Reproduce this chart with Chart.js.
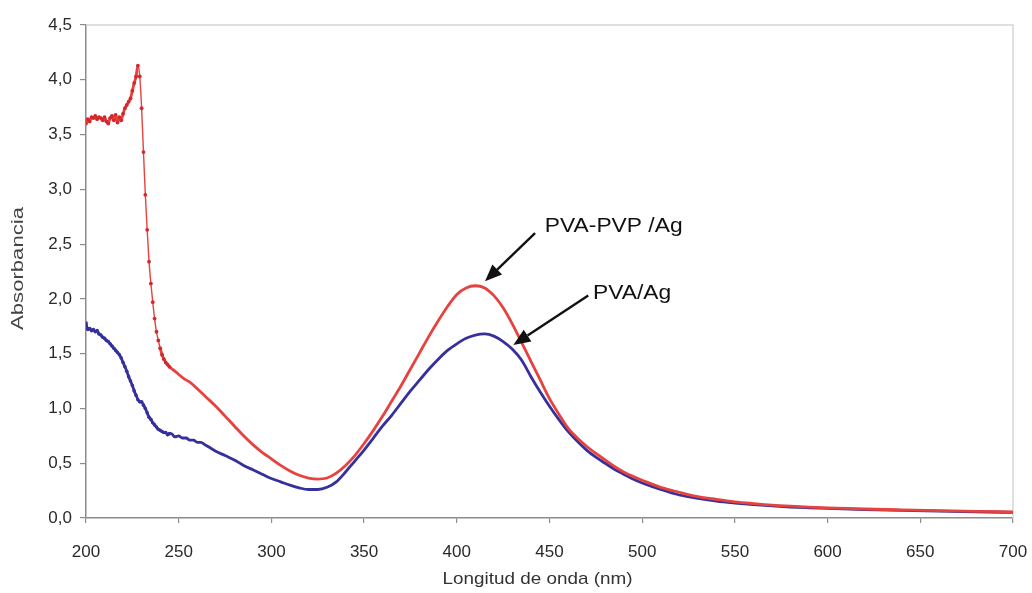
<!DOCTYPE html>
<html lang="es">
<head>
<meta charset="utf-8">
<title>Absorbancia UV-Vis</title>
<script src="https://cdn.jsdelivr.net/npm/chart.js@4.4.1/dist/chart.umd.min.js"></script>
<style>
  html, body { margin: 0; padding: 0; background: #ffffff; }
  #wrap { width: 1032px; height: 593px; }
</style>
</head>
<body>
<div id="wrap"><canvas id="chart" width="1032" height="593"></canvas></div>
<script>
// Wavelengths (nm) and absorbance of the PVA-PVP/Ag film
const redNm = [
  200, 201, 202, 203, 204, 205, 206, 207, 208, 209,
  210, 211, 212, 213, 214, 215, 216, 217, 218, 219,
  220, 221, 222, 223, 224, 225, 226, 227, 228, 229,
  230, 231, 232, 233, 234, 235, 236, 237, 238, 239,
  240, 241, 242, 243, 244, 245, 248, 250, 253, 256,
  260, 265, 270, 275, 280, 285, 290, 295, 300, 305,
  310, 315, 320, 325, 330, 335, 340, 345, 350, 355,
  360, 365, 370, 375, 380, 385, 390, 395, 400, 405,
  410, 415, 420, 425, 430, 435, 440, 445, 450, 455,
  460, 465, 470, 475, 480, 485, 490, 495, 500, 510,
  520, 530, 540, 550, 560, 570, 580, 590, 600, 620,
  640, 660, 680, 700
];
const redAbs = [
  3.60, 3.64, 3.62, 3.66, 3.65, 3.67, 3.64, 3.66, 3.65, 3.63,
  3.66, 3.62, 3.60, 3.65, 3.67, 3.63, 3.68, 3.61, 3.66, 3.63,
  3.69, 3.74, 3.77, 3.80, 3.83, 3.90, 3.97, 4.03, 4.13, 4.03,
  3.74, 3.34, 2.95, 2.63, 2.34, 2.14, 1.97, 1.82, 1.70, 1.62,
  1.55, 1.49, 1.45, 1.42, 1.40, 1.38, 1.34, 1.31, 1.27, 1.24,
  1.18, 1.10, 1.02, 0.93, 0.84, 0.75, 0.67, 0.60, 0.54, 0.48,
  0.43, 0.39, 0.365, 0.355, 0.365, 0.41, 0.48, 0.57, 0.68, 0.80,
  0.93, 1.07, 1.21, 1.36, 1.51, 1.66, 1.80, 1.93, 2.04, 2.10,
  2.12, 2.10, 2.03, 1.92, 1.77, 1.60, 1.43, 1.26, 1.09, 0.95,
  0.82, 0.73, 0.655, 0.59, 0.53, 0.47, 0.42, 0.38, 0.345, 0.28,
  0.235, 0.195, 0.17, 0.148, 0.132, 0.118, 0.108, 0.100, 0.093, 0.082,
  0.074, 0.067, 0.061, 0.056
];

// Wavelengths (nm) and absorbance of the PVA/Ag film
const blueNm = [
  200, 201, 202, 203, 204, 205, 206, 207, 208, 209,
  210, 211, 212, 213, 214, 215, 216, 217, 218, 219,
  220, 221, 222, 223, 224, 225, 226, 227, 228, 229,
  230, 231, 232, 233, 234, 235, 236, 237, 238, 239,
  240, 241, 242, 243, 244, 245, 246, 248, 250, 252,
  254, 256, 258, 260, 262, 264, 266, 270, 275, 280,
  285, 290, 295, 300, 305, 310, 315, 320, 325, 330,
  335, 340, 345, 350, 355, 360, 365, 370, 375, 380,
  385, 390, 395, 400, 405, 410, 415, 420, 425, 430,
  435, 440, 445, 450, 455, 460, 465, 470, 475, 480,
  485, 490, 495, 500, 510, 520, 530, 540, 550, 560,
  570, 580, 590, 600, 620, 640, 660, 680, 700
];
const blueAbs = [
  1.78, 1.72, 1.73, 1.71, 1.72, 1.70, 1.71, 1.68, 1.67, 1.65,
  1.64, 1.62, 1.61, 1.59, 1.57, 1.55, 1.53, 1.51, 1.49, 1.46,
  1.42, 1.38, 1.34, 1.29, 1.25, 1.21, 1.16, 1.12, 1.08, 1.06,
  1.06, 1.03, 1.00, 0.96, 0.92, 0.90, 0.87, 0.85, 0.83, 0.81,
  0.80, 0.79, 0.78, 0.78, 0.76, 0.77, 0.77, 0.74, 0.75, 0.73,
  0.73, 0.71, 0.71, 0.69, 0.69, 0.67, 0.65, 0.61, 0.57, 0.53,
  0.48, 0.44, 0.40, 0.36, 0.33, 0.30, 0.275, 0.26, 0.26, 0.28,
  0.33, 0.42, 0.52, 0.62, 0.73, 0.84, 0.94, 1.05, 1.16, 1.26,
  1.36, 1.45, 1.53, 1.59, 1.64, 1.67, 1.68, 1.66, 1.61, 1.54,
  1.44, 1.29, 1.15, 1.02, 0.90, 0.79, 0.70, 0.62, 0.555, 0.50,
  0.445, 0.40, 0.355, 0.32, 0.26, 0.21, 0.18, 0.155, 0.137, 0.122,
  0.11, 0.10, 0.093, 0.087, 0.077, 0.069, 0.062, 0.056, 0.051
];

// Axis settings
const xMin = 200, xMax = 700, xStep = 50;
const yMin = 0, yMax = 4.5, yStep = 0.5;
const xTitle = 'Longitud de onda (nm)';
const yTitle = 'Absorbancia';

// Callout labels: text, text anchor (nm, abs), arrow tail and arrow tip (nm, abs)
const calloutText = ['PVA-PVP /Ag', 'PVA/Ag'];
const calloutAt   = [[447.5, 2.66], [473.5, 2.05]];
const arrowFrom   = [[442.2, 2.60], [470.9, 2.03]];
const arrowTo     = [[415.2, 2.16], [430.5, 1.58]];

const toPoints = (xs, ys) => xs.map((x, i) => ({ x: x, y: ys[i] }));

const RED = '#e6423f';
const RED_DOT = '#d3282c';
const BLUE = '#35309c';
const AXIS = '#8c8c8c';
const FRAME = '#d6d6d6';
const FONT = 'Liberation Sans, Arial, sans-serif';

// Draws a line of text stretched horizontally by sx around its anchor
function stretchedText(ctx, txt, x, y, sx, align) {
  ctx.save();
  ctx.translate(x, y);
  ctx.scale(sx, 1);
  ctx.textAlign = align;
  ctx.textBaseline = 'middle';
  ctx.fillText(txt, 0, 0);
  ctx.restore();
}

// Light frame along the top and right edges of the plot area
const framePlugin = {
  id: 'frame',
  beforeDatasetsDraw(chart) {
    const { ctx, chartArea: a } = chart;
    ctx.save();
    ctx.strokeStyle = FRAME;
    ctx.lineWidth = 1.5;
    ctx.beginPath();
    ctx.moveTo(a.left, a.top);
    ctx.lineTo(a.right, a.top);
    ctx.lineTo(a.right, a.bottom);
    ctx.stroke();
    ctx.restore();
  }
};

// Axis titles, drawn in the space reserved by the scales
const axisTitlePlugin = {
  id: 'axisTitles',
  afterDraw(chart) {
    const { ctx, chartArea: a } = chart;
    ctx.save();
    ctx.font = '17px ' + FONT;
    ctx.fillStyle = '#333333';
    stretchedText(ctx, xTitle, (a.left + a.right) / 2 - 12, 579, 1.11, 'center');
    ctx.fillStyle = '#444444';
    ctx.translate(18, (a.top + a.bottom) / 2 - 3);
    ctx.rotate(-Math.PI / 2);
    stretchedText(ctx, yTitle, 0, 0, 1.3, 'center');
    ctx.restore();
  }
};

// Callout texts with arrows pointing at the absorption bands
const calloutPlugin = {
  id: 'callouts',
  afterDraw(chart) {
    const { ctx } = chart;
    const xs = chart.scales.x, ys = chart.scales.y;
    ctx.save();
    calloutText.forEach((txt, i) => {
      const x0 = xs.getPixelForValue(arrowFrom[i][0]);
      const y0 = ys.getPixelForValue(arrowFrom[i][1]);
      const x1 = xs.getPixelForValue(arrowTo[i][0]);
      const y1 = ys.getPixelForValue(arrowTo[i][1]);
      const ang = Math.atan2(y1 - y0, x1 - x0);
      const headLen = 17, headHalf = 7;
      const bx = x1 - headLen * Math.cos(ang);
      const by = y1 - headLen * Math.sin(ang);
      ctx.strokeStyle = '#111111';
      ctx.fillStyle = '#111111';
      ctx.lineWidth = 2.4;
      ctx.beginPath();
      ctx.moveTo(x0, y0);
      ctx.lineTo(bx, by);
      ctx.stroke();
      ctx.beginPath();
      ctx.moveTo(x1, y1);
      ctx.lineTo(bx + headHalf * Math.sin(ang), by - headHalf * Math.cos(ang));
      ctx.lineTo(bx - headHalf * Math.sin(ang), by + headHalf * Math.cos(ang));
      ctx.closePath();
      ctx.fill();

      const tx = xs.getPixelForValue(calloutAt[i][0]);
      const ty = ys.getPixelForValue(calloutAt[i][1]);
      ctx.font = '20px ' + FONT;
      stretchedText(ctx, txt, tx, ty, 1.14, 'left');
    });
    ctx.restore();
  }
};

new Chart(document.getElementById('chart'), {
  type: 'line',
  data: {
    datasets: [
      {
        label: 'PVA-PVP /Ag',
        data: toPoints(redNm, redAbs),
        borderColor: RED,
        backgroundColor: RED_DOT,
        pointBackgroundColor: RED_DOT,
        pointBorderWidth: 0,
        pointRadius: c => (c.raw && c.raw.x <= 245 ? 1.9 : 0),
        borderWidth: 2.8,
        cubicInterpolationMode: 'monotone',
        segment: {
          borderWidth: c => (c.p0.parsed.x >= 228 && c.p1.parsed.x <= 240 ? 1.4 : 2.8)
        }
      },
      {
        label: 'PVA/Ag',
        data: toPoints(blueNm, blueAbs),
        borderColor: BLUE,
        backgroundColor: BLUE,
        pointBackgroundColor: BLUE,
        pointBorderWidth: 0,
        pointRadius: c => (c.raw && c.raw.x <= 245 ? 1.8 : 0),
        borderWidth: 2.8,
        cubicInterpolationMode: 'monotone'
      }
    ]
  },
  options: {
    responsive: false,
    devicePixelRatio: 1,
    animation: false,
    layout: { padding: { left: 0, right: 19, top: 25, bottom: 0 } },
    plugins: {
      legend: { display: false },
      tooltip: { enabled: false }
    },
    scales: {
      x: {
        type: 'linear',
        min: xMin,
        max: xMax,
        afterFit: s => { s.height = 75; s.paddingLeft = 0; s.paddingRight = 0; },
        ticks: {
          stepSize: xStep,
          color: '#2a2a2a',
          padding: 19,
          font: { family: FONT, size: 17 },
          maxRotation: 0,
          callback: v => String(v)
        },
        grid: { drawOnChartArea: false, drawTicks: true, tickLength: 5, color: AXIS, lineWidth: 1.2 },
        border: { display: true, color: AXIS, width: 1.5 },
        title: { display: false, text: xTitle }
      },
      y: {
        type: 'linear',
        min: yMin,
        max: yMax,
        afterFit: s => { s.width = 86; },
        ticks: {
          stepSize: yStep,
          color: '#2a2a2a',
          padding: 8,
          font: { family: FONT, size: 17 },
          callback: v => v.toFixed(1).replace('.', ',')
        },
        grid: { drawOnChartArea: false, drawTicks: true, tickLength: 6, color: AXIS, lineWidth: 1.2 },
        border: { display: true, color: AXIS, width: 1.5 },
        title: { display: false, text: yTitle }
      }
    }
  },
  plugins: [framePlugin, axisTitlePlugin, calloutPlugin]
});
</script>
</body>
</html>
